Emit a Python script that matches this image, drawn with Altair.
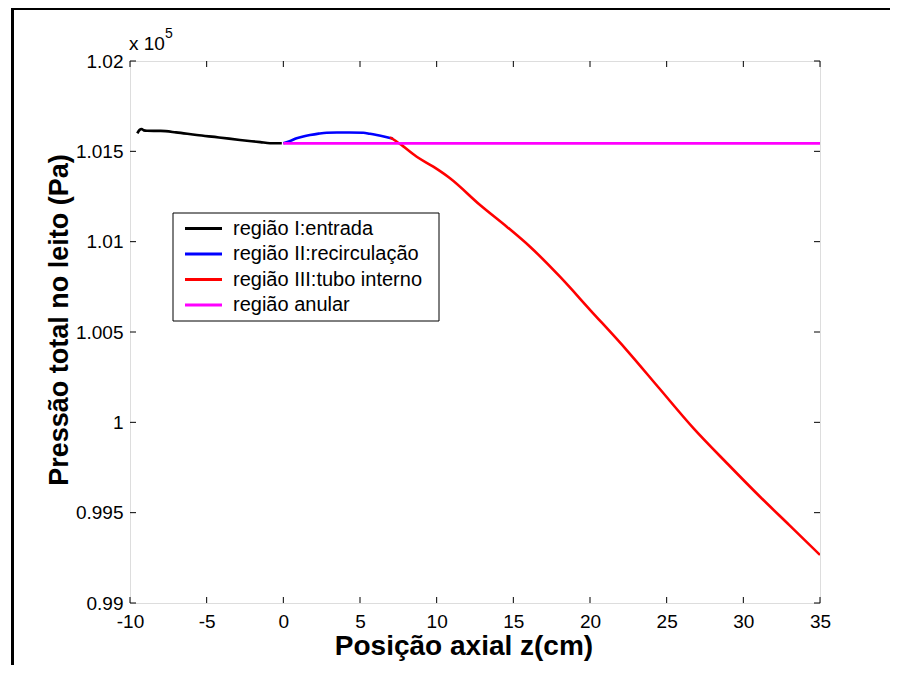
import altair as alt
import pandas as pd

# ---- data (pressure in Pa, position in cm) ----
z_entrada = [-9.52, -9.38, -9.24, -9.10, -8.90, -8.00, -7.00, -5.65, -4.20, -2.83, -1.50, -0.87, -0.10]
p_entrada = [101600, 101618, 101624, 101616, 101614, 101613, 101605, 101590, 101577, 101563, 101551, 101545, 101545]

z_recirc = [0.0, 0.45, 0.87, 1.30, 1.74, 2.30, 2.83, 3.50, 4.30, 5.22, 5.65, 6.09, 6.55, 6.96, 7.15]
p_recirc = [101545, 101558, 101572, 101582, 101590, 101598, 101603, 101604, 101604, 101603, 101597, 101590, 101582, 101574, 101570]

z_tubo = [6.96, 7.61, 8.70, 9.78, 10.87, 12.83, 14.57, 16.09, 18.04, 20.00, 22.39, 24.50, 26.74, 29.00, 31.09, 33.00, 35.00]
p_tubo = [101578, 101541, 101470, 101415, 101351, 101203, 101083, 100972, 100806, 100623, 100400, 100190, 99968, 99768, 99588, 99431, 99266]

z_anular = [0.0, 35.0]
p_anular = [101544, 101544]

series_names = ["região I:entrada", "região II:recirculação", "região III:tubo interno", "região anular"]
series_colors = ["#000000", "#0000ff", "#ff0000", "#ff00ff"]
series_z = [z_entrada, z_recirc, z_tubo, z_anular]
series_p = [p_entrada, p_recirc, p_tubo, p_anular]

x_ticks = [-10, -5, 0, 5, 10, 15, 20, 25, 30, 35]
y_ticks = [99000, 99500, 100000, 100500, 101000, 101500, 102000]

x_title = "Posição axial z(cm)"
y_title = "Pressão total no leito (Pa)"

W, H = 690, 542
FONT = "Liberation Sans"

xs = alt.Scale(domain=[-10, 35], nice=False, zero=False)
ys = alt.Scale(domain=[99000, 102000], nice=False, zero=False)

x_axis = alt.Axis(values=x_ticks, title=None, grid=False, domain=False, ticks=False, tickSize=0,
                  labelPadding=9, labelFontSize=19, labelFont=FONT, labelColor="black",
                  labelFlush=False, labelOverlap=False, labelExpr="datum.value + ''")
y_axis = alt.Axis(values=y_ticks, title=None, grid=False, domain=False, ticks=False, tickSize=0,
                  labelPadding=7, labelFontSize=19, labelFont=FONT, labelColor="black",
                  labelOverlap=False, labelExpr="format(datum.value / 100000, '.3~f')")

one = pd.DataFrame({"a": [0]})
layers = []

# data lines
for name, color, zz, pp in zip(series_names, series_colors, series_z, series_p):
    df = pd.DataFrame({"z": zz, "p": pp, "i": list(range(len(zz)))})
    layers.append(
        alt.Chart(df).mark_line(color=color, strokeWidth=2.6, clip=True, interpolate="monotone").encode(
            x=alt.X("z:Q", scale=xs, axis=x_axis),
            y=alt.Y("p:Q", scale=ys, axis=y_axis),
            order="i:Q",
        )
    )

# inward ticks (MATLAB style box)
xt = pd.DataFrame({"z": x_ticks})
yt = pd.DataFrame({"p": y_ticks})
layers.append(alt.Chart(xt).mark_rule(color="black", strokeWidth=1).encode(
    x=alt.X("z:Q", scale=xs, axis=x_axis), y=alt.value(H), y2=alt.value(H - 6)))
layers.append(alt.Chart(xt).mark_rule(color="black", strokeWidth=1).encode(
    x=alt.X("z:Q", scale=xs, axis=x_axis), y=alt.value(0), y2=alt.value(6)))
layers.append(alt.Chart(yt).mark_rule(color="black", strokeWidth=1).encode(
    y=alt.Y("p:Q", scale=ys, axis=y_axis), x=alt.value(0), x2=alt.value(6)))
layers.append(alt.Chart(yt).mark_rule(color="black", strokeWidth=1).encode(
    y=alt.Y("p:Q", scale=ys, axis=y_axis), x=alt.value(W), x2=alt.value(W - 6)))

# legend box
layers.append(alt.Chart(one).mark_rect(fill="white", stroke="black", strokeWidth=1).encode(
    x=alt.value(43), x2=alt.value(309), y=alt.value(152), y2=alt.value(260)))
for i, (name, color) in enumerate(zip(series_names, series_colors)):
    yy = 167.5 + 25.5 * i
    layers.append(alt.Chart(one).mark_rule(color=color, strokeWidth=3).encode(
        x=alt.value(55), x2=alt.value(92), y=alt.value(yy)))
    layers.append(alt.Chart(one).mark_text(text=name, align="left", baseline="middle",
                                           fontSize=20, font=FONT, color="black").encode(
        x=alt.value(103), y=alt.value(yy)))

# exponent label
layers.append(alt.Chart(one).mark_text(text="x 10", align="left", baseline="alphabetic",
                                       fontSize=19, font=FONT, color="black").encode(
    x=alt.value(-1), y=alt.value(-11)))
layers.append(alt.Chart(one).mark_text(text="5", align="left", baseline="alphabetic",
                                       fontSize=14, font=FONT, color="black").encode(
    x=alt.value(35), y=alt.value(-23)))

# axis titles
layers.append(alt.Chart(one).mark_text(text=x_title, align="center", baseline="middle",
                                       fontSize=28, fontWeight="bold", font=FONT, color="black").encode(
    x=alt.value(334), y=alt.value(586)))
layers.append(alt.Chart(one).mark_text(text=y_title, align="center", baseline="middle", angle=270,
                                       fontSize=27, fontWeight="bold", font=FONT, color="black").encode(
    x=alt.value(-70), y=alt.value(259)))

# figure frame (top and left edges)
layers.append(alt.Chart(one).mark_rule(color="black", strokeWidth=3).encode(
    x=alt.value(-118), x2=alt.value(770), y=alt.value(-52.5)))
layers.append(alt.Chart(one).mark_rule(color="black", strokeWidth=3).encode(
    x=alt.value(-117.5), y=alt.value(-54), y2=alt.value(620)))

chart = alt.layer(*layers).properties(
    width=W, height=H,
    autosize=alt.AutoSizeParams(type="none"),
    padding={"left": 122, "top": 53, "right": 70, "bottom": 62},
).configure_view(stroke="black", strokeWidth=1.2).configure(font=FONT)

chart.save("out.html", embed_options={"renderer": "svg", "actions": False})
